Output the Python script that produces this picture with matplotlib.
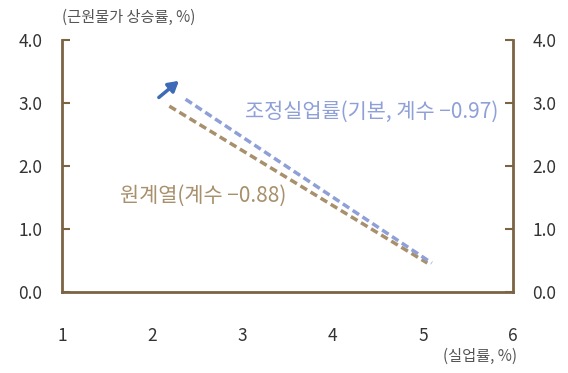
import matplotlib.pyplot as plt

plt.rcParams['font.family'] = ['Noto Sans CJK KR', 'DejaVu Sans']

# 데이터 (추세선 양 끝점)
adj_x = [2.37, 5.10]
adj_y = [3.06, 0.46]
raw_x = [2.19, 5.05]
raw_y = [2.95, 0.46]
arrow_from = (2.05, 3.06)
arrow_to = (2.32, 3.38)

x_ticks = [1, 2, 3, 4, 5, 6]
y_ticks = [0.0, 1.0, 2.0, 3.0, 4.0]

axis_col = '#7b6444'
blue = '#8fa0d8'
brown = '#a8906c'

fig = plt.figure(figsize=(5.68, 3.73), dpi=100)
ax = fig.add_axes([62 / 568, 1 - 292 / 373, 451 / 568, 252 / 373])

ax.plot(raw_x, raw_y, color=brown, lw=2.5, ls=(0, (2.2, 1.2)))
ax.plot(adj_x, adj_y, color=blue, lw=2.5, ls=(0, (2.2, 1.2)))
ax.annotate('', xy=arrow_to, xytext=arrow_from,
            arrowprops=dict(arrowstyle='-|>,head_length=0.6,head_width=0.35',
                            color='#3d6bb5', lw=2.5))

ax.text(3.03, 2.86, '조정실업률(기본, 계수 −0.97)', color=blue, fontsize=15,
        va='center', ha='left')
ax.text(1.64, 1.53, '원계열(계수 −0.88)', color=brown, fontsize=15,
        va='center', ha='left')

ax.set_xlim(1, 6)
ax.set_ylim(0, 4)
ax.set_xticks(x_ticks)
ax.set_yticks(y_ticks)
ax.set_yticklabels([f'{v:.1f}' for v in y_ticks])

ax.spines['top'].set_visible(False)
for s in ['left', 'right', 'bottom']:
    ax.spines[s].set_color(axis_col)
    ax.spines[s].set_linewidth(2)

ax.tick_params(axis='y', direction='in', length=6, width=1.5, color=axis_col,
               labelsize=12.5, pad=14, right=True, labelright=True, labelcolor='#333333')
ax.tick_params(axis='x', length=0, labelsize=12.5, pad=25, labelcolor='#333333')

fig.text(62 / 568, 1 - 17 / 373, '(근원물가 상승률, %)', fontsize=11,
         color='#555555', ha='left', va='center')
fig.text(480 / 568, 1 - 356 / 373, '(실업률, %)', fontsize=11,
         color='#555555', ha='center', va='center')

fig.savefig('out.png', dpi=100)
